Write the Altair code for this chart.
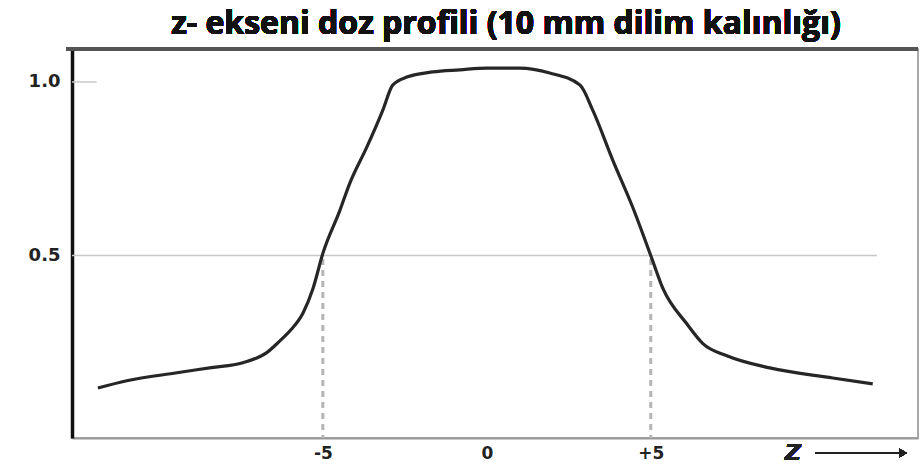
import altair as alt
import pandas as pd

# Dose profile along the z axis (10 mm slice thickness)
z_pos = [-11.86, -10.98, -9.45, -8.40, -7.44, -6.71, -6.31, -6.00, -5.60, -5.30,
         -5.00, -4.48, -4.18, -3.66, -3.17, -2.87, -2.44, -1.65, -0.82, 0.00,
         1.00, 1.92, 2.84, 3.23, 3.84, 4.45, 5.00, 5.37, 6.10, 6.59,
         7.32, 8.63, 10.55, 11.77]
dose = [0.118, 0.139, 0.162, 0.177, 0.191, 0.220, 0.254, 0.283, 0.335, 0.405,
        0.506, 0.630, 0.708, 0.812, 0.919, 0.991, 1.014, 1.029, 1.035, 1.040,
        1.040, 1.026, 0.991, 0.919, 0.775, 0.639, 0.500, 0.405, 0.303, 0.246,
        0.211, 0.176, 0.147, 0.130]

x_ticks = [-5, 0, 5]
y_ticks = [0.5, 1.0]
half_width = [-5, 5]          # FWHM markers
half_level = 0.5

title_text = "z- ekseni doz profili (10 mm dilim kalınlığı)"

X_DOMAIN = [-12.65, 13.15]
Y_DOMAIN = [-0.026, 1.095]
W, H = 846, 389

profile = pd.DataFrame({"z": z_pos, "doz": dose})

x_scale = alt.Scale(domain=X_DOMAIN, nice=False, zero=False)
y_scale = alt.Scale(domain=Y_DOMAIN, nice=False, zero=False)

x_axis = alt.Axis(
    values=x_ticks, title=None, grid=False, ticks=False,
    labelExpr="datum.value > 0 ? '+' + datum.value : '' + datum.value",
    labelFont="DejaVu Sans", labelFontWeight="bold", labelFontSize=17,
    labelColor="#222", labelPadding=7,
    domainColor="#9a9a9a", domainWidth=2,
)
y_axis = alt.Axis(
    values=y_ticks, title=None, grid=False, ticks=False, format=".1f",
    labelFont="DejaVu Sans", labelFontWeight="bold", labelFontSize=18,
    labelColor="#222", labelPadding=12,
    domainColor="#111", domainWidth=3.5,
)

base = alt.Chart(profile)

curve = base.mark_line(color="#262626", strokeWidth=3.2, interpolate="monotone").encode(
    x=alt.X("z:Q", scale=x_scale, axis=x_axis),
    y=alt.Y("doz:Q", scale=y_scale, axis=y_axis),
)

# horizontal reference at half maximum and short tick at 1.0
ref_df = pd.DataFrame({"y": [half_level, 1.0], "x1": [X_DOMAIN[0], X_DOMAIN[0]],
                       "x2": [11.9, -11.9]})
ref_lines = alt.Chart(ref_df).mark_rule(color="#c8c8c8", strokeWidth=1.5).encode(
    x=alt.X("x1:Q", scale=x_scale), x2="x2:Q", y=alt.Y("y:Q", scale=y_scale)
)

# dashed verticals at the half-width positions
fw_df = pd.DataFrame({"z": half_width, "top": [half_level - 0.01] * 2,
                      "bottom": [Y_DOMAIN[0]] * 2})
fw_lines = alt.Chart(fw_df).mark_rule(color="#b4b4b4", strokeWidth=3,
                                      strokeDash=[6, 5]).encode(
    x=alt.X("z:Q", scale=x_scale), y=alt.Y("top:Q", scale=y_scale), y2="bottom:Q"
)

# top frame line
top_line = alt.Chart(profile).mark_rule(color="#555", strokeWidth=2.5).encode(
    x=alt.value(-6), x2=alt.value(W), y=alt.value(0)
)

title = alt.Chart(profile).mark_text(
    text=title_text, font="Open Sans", fontWeight="bold", fontSize=32,
    color="#111", align="center", baseline="middle"
).encode(x=alt.value(434), y=alt.value(-25))

z_label = alt.Chart(profile).mark_text(
    text="Z", font="DejaVu Sans", fontWeight="bold", fontStyle="italic",
    fontSize=22, color="#222", align="center", baseline="middle"
).encode(x=alt.value(721), y=alt.value(404))

z_arrow = alt.Chart(profile).mark_rule(color="#222", strokeWidth=1.5).encode(
    x=alt.value(743), x2=alt.value(828), y=alt.value(404)
)
z_head = alt.Chart(profile).mark_point(
    shape="triangle-right", filled=True, color="#222", size=80, opacity=1
).encode(x=alt.value(831), y=alt.value(404))

chart = alt.layer(
    ref_lines, fw_lines, curve, top_line, title, z_label, z_arrow, z_head
).properties(
    width=W, height=H,
    autosize=alt.AutoSizeParams(type="none"),
    padding={"left": 72, "top": 49, "right": 4, "bottom": 27},
    background="white",
).configure_view(stroke="#a8a8a8", strokeWidth=2)

chart.save("out.html", embed_options={"renderer": "svg", "actions": False})
